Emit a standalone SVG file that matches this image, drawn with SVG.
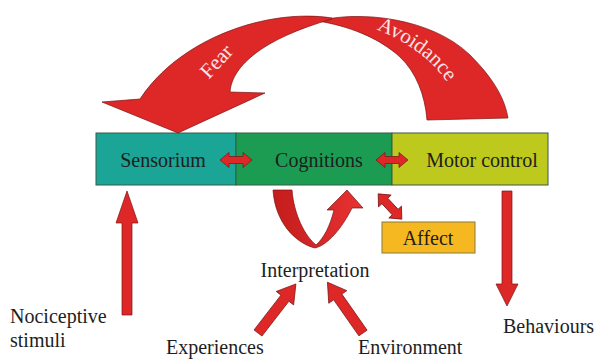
<svg xmlns="http://www.w3.org/2000/svg" width="599" height="359" viewBox="0 0 599 359">
<style>
.lbl{font-family:"Liberation Serif","Times New Roman",serif;font-size:20px;fill:#1e1e1e}
.box{stroke:#3a5a48;stroke-width:1}
.red{fill:#de2828;stroke:#7a1212;stroke-width:0.7;stroke-linejoin:round}
.wt{font-family:"Liberation Serif","Times New Roman",serif;font-size:21px;fill:#fbe4e4}
</style>
<defs>
<path id="dbl" d="M-16,0 L-7,-7.5 L-7,-3.5 L7,-3.5 L7,-7.5 L16,0 L7,7.5 L7,3.5 L-7,3.5 L-7,7.5 Z"/>
<path id="arr" d="M0,-5 L44,-5 L44,-11 L62,0 L44,11 L44,5 L0,5 Z"/>
<linearGradient id="ug" x1="0" y1="0" x2="1" y2="0">
<stop offset="0" stop-color="#c41c1c"/>
<stop offset="1" stop-color="#e83232"/>
</linearGradient>
<path id="avpath" d="M368,26 Q428,48 452,90" fill="none"/>
</defs>
<rect width="599" height="359" fill="#ffffff"/>

<g id="sensorium">
<rect class="box" x="96" y="133" width="140" height="52" fill="#1aa596"/>
<text class="lbl" x="163" y="167" text-anchor="middle">Sensorium</text>
</g>
<g id="cognitions">
<rect class="box" x="236" y="133" width="156" height="52" fill="#1b9c52"/>
<text class="lbl" x="319" y="167" text-anchor="middle">Cognitions</text>
</g>
<g id="motor">
<rect class="box" x="392" y="133" width="156" height="52" fill="#bdc91c"/>
<text class="lbl" x="482" y="167" text-anchor="middle">Motor control</text>
</g>
<g id="affect">
<rect x="382" y="222" width="93" height="31" fill="#f5b820" stroke="#8c7a3a" stroke-width="1"/>
<text class="lbl" x="428" y="245" text-anchor="middle">Affect</text>
</g>
<g id="interpretation">
<text class="lbl" x="315" y="277" text-anchor="middle">Interpretation</text>
</g>
<g id="nociceptive">
<text class="lbl" x="10" y="323">Nociceptive</text>
<text class="lbl" x="10" y="347">stimuli</text>
</g>
<g id="experiences">
<text class="lbl" x="166" y="354">Experiences</text>
</g>
<g id="environment">
<text class="lbl" x="358" y="354">Environment</text>
</g>
<g id="behaviours">
<text class="lbl" x="503" y="333">Behaviours</text>
</g>

<g id="connectors">
<!-- Avoidance arc -->
<path class="red" d="M318,21 C360,10 432,18 470,55 C495,80 505,100 508,118 L427,120 C425,95 416,72 400,57 C378,37 348,26 318,21 Z"/>
<text class="wt" font-size="20"><textPath href="#avpath" startOffset="50%" text-anchor="middle">Avoidance</textPath></text>
<!-- Fear arrow -->
<path class="red" d="M332,18 C268,8 180,38 140,99 L102,102 L178,133 L265,93 L230,92 C232,65 265,38 332,19 Z"/>
<text class="wt" transform="translate(216,61) rotate(-47)" text-anchor="middle" dy="0.35em">Fear</text>
<!-- double arrows -->
<use href="#dbl" class="red" x="236" y="160"/>
<use href="#dbl" class="red" x="392" y="160"/>
<use href="#dbl" class="red" transform="translate(390,206.5) rotate(47) scale(1.08,1.15)"/>
<!-- U loop arrow -->
<path d="M273,190 C275,222 295,243 315,248 C328,245 342,228 352,208 L363,208 L347,190 L327,210 L334,210 C330,226 324,238 316,245 C305,236 294,215 292,190 Z" fill="url(#ug)" stroke="#7a1212" stroke-width="0.7" stroke-linejoin="round"/>
<!-- Nociceptive arrow -->
<path class="red" d="M127,191 L138,223 L132,223 L132,315 L122,315 L122,223 L116,223 Z"/>
<!-- Behaviours arrow -->
<path class="red" d="M502,191 L512,191 L512,284 L518,284 L507,306 L496,284 L502,284 Z"/>
<!-- Experiences / Environment arrows -->
<use href="#arr" class="red" transform="translate(258,333) rotate(-52.3)"/>
<use href="#arr" class="red" transform="translate(363,333) rotate(-125)"/>
</g>
</svg>
